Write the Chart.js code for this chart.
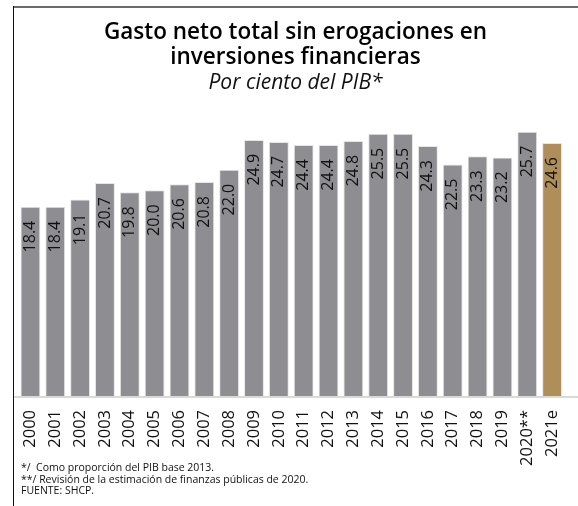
<!DOCTYPE html>
<html>
<head>
<meta charset="utf-8">
<script src="https://cdn.jsdelivr.net/npm/chart.js@4.4.1/dist/chart.umd.min.js"></script>
<style>
    html, body { margin: 0; padding: 0; background: #fff; }
    body { width: 578px; height: 506px; position: relative; overflow: hidden; font-family: "Open Sans", sans-serif; }
    .frame-top { position: absolute; left: 13px; top: 6px; width: 565px; height: 2px; background: #6b6b6b; }
    .frame-left { position: absolute; left: 13px; top: 6px; width: 1px; height: 500px; background: #111; }
    #chartBox { position: absolute; left: 0; top: 0; width: 578px; height: 506px; }
    .notes { position: absolute; left: 21px; top: 462px; font-size: 10.5px; line-height: 11.5px; color: #111; }
</style>
</head>
<body>
<div id="chartBox"><canvas id="gastoChart"></canvas></div>
<div class="frame-top"></div>
<div class="frame-left"></div>
<div class="notes">
    <div>*/&nbsp; Como proporción del PIB base 2013.</div>
    <div>**/ Revisión de la estimación de finanzas públicas de 2020.</div>
    <div>FUENTE: SHCP.</div>
</div>
<script>
// Data
const years = ['2000', '2001', '2002', '2003', '2004', '2005', '2006', '2007', '2008', '2009', '2010',
    '2011', '2012', '2013', '2014', '2015', '2016', '2017', '2018', '2019', '2020**', '2021e'];
const gasto = [18.4, 18.4, 19.1, 20.7, 19.8, 20.0, 20.6, 20.8, 22.0, 24.9, 24.7,
    24.4, 24.4, 24.8, 25.5, 25.5, 24.3, 22.5, 23.3, 23.2, 25.7, 24.6];
const titleLines = ['Gasto neto total sin erogaciones en', 'inversiones financieras'];
const subtitleText = 'Por ciento del PIB*';

const grayBar = '#8e8d92';
const goldBar = '#b08e5a';
const fontFamily = '"Open Sans", sans-serif';

// Rotated value labels inside the top of each bar
const barLabels = {
    id: 'barLabels',
    afterDatasetsDraw(chart) {
        const ctx = chart.ctx;
        const meta = chart.getDatasetMeta(0);
        ctx.save();
        ctx.fillStyle = '#111';
        ctx.font = '16px ' + fontFamily;
        ctx.textAlign = 'right';
        ctx.textBaseline = 'middle';
        meta.data.forEach((bar, i) => {
            ctx.save();
            ctx.translate(bar.x, bar.y + 14);
            ctx.rotate(-Math.PI / 2);
            ctx.fillText(gasto[i].toFixed(1), 0, 0);
            ctx.restore();
        });
        ctx.restore();
    }
};

// Light baseline under the bars
const baseLine = {
    id: 'baseLine',
    afterDatasetsDraw(chart) {
        const ctx = chart.ctx;
        const y = chart.scales.y.getPixelForValue(0);
        ctx.save();
        ctx.fillStyle = '#d9d9d9';
        ctx.fillRect(14, y, 564, 2);
        ctx.restore();
    }
};

const ctx = document.getElementById('gastoChart').getContext('2d');
new Chart(ctx, {
    type: 'bar',
    data: {
        labels: years,
        datasets: [{
            data: gasto,
            backgroundColor: years.map((y, i) => i === years.length - 1 ? goldBar : grayBar),
            borderColor: '#e6e6e6',
            borderWidth: 1,
            categoryPercentage: 1,
            barPercentage: 0.8
        }]
    },
    options: {
        responsive: true,
        maintainAspectRatio: false,
        animation: false,
        layout: { padding: { left: 18, right: 5, top: 20, bottom: 30 } },
        plugins: {
            legend: { display: false },
            tooltip: { enabled: false },
            title: {
                display: true,
                text: titleLines,
                color: '#000',
                font: { family: fontFamily, size: 22.5, weight: 600, lineHeight: 1.12 },
                padding: { top: 0, bottom: 0 }
            },
            subtitle: {
                display: true,
                text: subtitleText,
                color: '#111',
                font: { family: fontFamily, size: 21, style: 'italic', lineHeight: 1.2 },
                padding: { top: 0, bottom: 33 }
            }
        },
        scales: {
            x: {
                grid: { display: false },
                border: { display: false },
                ticks: {
                    color: '#111',
                    font: { family: fontFamily, size: 16.5 },
                    maxRotation: 90,
                    minRotation: 90,
                    padding: 6,
                    autoSkip: false
                },
                // tall enough that "2020**" is not clipped
                afterFit(scale) { scale.height = 80; }
            },
            y: {
                display: false,
                min: 0,
                max: 26
            }
        }
    },
    plugins: [barLabels, baseLine]
});
</script>
</body>
</html>
